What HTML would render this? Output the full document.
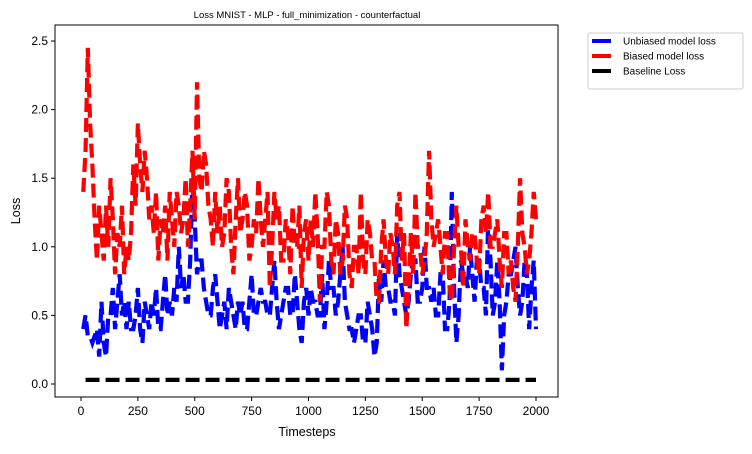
<!DOCTYPE html>
<html><head><meta charset="utf-8"><style>
body{margin:0;background:#fff;}
svg text{font-family:"Liberation Sans","DejaVu Sans",sans-serif;}
</style></head><body>
<svg width="752" height="449" xmlns="http://www.w3.org/2000/svg">
<rect width="752" height="449" fill="#fff"/>
<text x="307" y="18" font-size="9.5" text-anchor="middle">Loss MNIST - MLP - full_minimization - counterfactual</text>
<g id="plot"></g>
<rect x="55" y="25" width="503" height="372" fill="none" stroke="#000" stroke-width="1"/>
<g id="axes"></g>
<text x="307" y="436" font-size="12.5" text-anchor="middle">Timesteps</text>
<text transform="translate(20,211) rotate(-90)" font-size="12.5" text-anchor="middle">Loss</text>
<g>
<rect x="588" y="33" width="155" height="56" rx="2" fill="#fff" stroke="#ccc"/>
<line x1="592" y1="41" x2="611" y2="41" stroke="#00f" stroke-width="4"/>
<text x="623" y="44.5" font-size="10">Unbiased model loss</text>
<line x1="592" y1="56" x2="611" y2="56" stroke="#f00" stroke-width="4"/>
<text x="623" y="59.5" font-size="10">Biased model loss</text>
<line x1="592" y1="71" x2="611" y2="71" stroke="#000" stroke-width="4"/>
<text x="623" y="74.5" font-size="10">Baseline Loss</text>
</g>
</svg>
<script>
const red=[1.4,1.7,2.45,1.9,1.6,1.2,0.9,1.3,1.1,0.9,1.3,1.0,1.5,1.2,0.8,1.1,1.0,1.3,0.8,1.0,
0.9,1.1,1.6,1.3,1.9,1.6,1.4,1.7,1.5,1.2,1.3,1.1,1.4,0.9,1.2,1.1,1.3,0.9,1.4,1.2,
1.0,1.4,1.3,1.1,1.2,1.5,1.0,1.3,1.7,1.2,2.2,1.5,1.4,1.7,1.6,1.3,1.2,1.0,1.4,1.1,
1.3,1.0,1.1,1.5,1.4,1.0,0.8,1.2,1.5,1.1,1.2,1.4,1.3,0.9,1.0,1.2,1.1,1.5,1.2,1.0,
1.2,1.4,0.7,1.0,1.4,1.2,1.3,0.9,0.9,1.2,1.1,0.8,1.3,1.0,1.0,1.3,0.7,1.1,1.2,0.9,
1.2,1.0,1.4,1.1,0.6,1.0,1.0,1.4,1.3,0.9,0.8,1.2,1.1,0.8,0.9,1.3,1.2,0.8,0.7,1.0,
1.0,0.8,1.4,0.9,0.8,1.2,1.1,0.9,0.9,0.6,0.6,1.0,1.2,0.9,0.8,1.1,1.0,0.8,1.3,1.4,
0.9,1.1,0.4,0.7,1.1,0.8,1.4,1.0,1.0,0.8,0.9,1.1,1.7,1.2,1.0,1.1,1.2,1.0,0.8,1.1,
1.1,0.7,0.6,1.0,1.3,1.0,1.0,0.7,1.2,1.0,0.9,1.1,1.1,0.9,0.8,1.2,1.3,1.1,1.4,1.0,
1.0,1.1,1.2,0.9,0.7,1.1,1.1,0.8,0.9,0.7,0.6,1.0,1.5,1.1,1.0,0.8,0.9,1.1,1.4,1.2];
const blue=[0.4,0.5,0.35,0.35,0.3,0.35,0.4,0.2,0.6,0.3,0.2,0.5,0.5,0.7,0.4,0.6,0.8,0.5,0.6,0.4,
0.6,0.4,0.4,0.5,0.7,0.4,0.3,0.6,0.5,0.4,0.6,0.5,0.7,0.4,0.4,0.6,0.8,0.5,0.6,0.5,
0.7,0.6,1.0,0.7,0.8,0.6,0.6,0.9,1.5,1.2,0.8,0.9,0.9,0.7,0.6,0.5,0.5,0.7,0.8,0.6,
0.4,0.5,0.6,0.4,0.7,0.6,0.5,0.4,0.6,0.5,0.6,0.4,0.4,0.6,0.8,0.5,0.5,0.6,0.7,0.6,
0.6,0.5,0.5,0.7,0.9,0.6,0.4,0.5,0.6,0.7,0.7,0.5,0.5,0.8,0.6,0.4,0.3,0.6,0.7,0.5,
0.7,0.6,0.6,0.5,0.5,0.8,0.4,0.6,0.9,0.7,0.7,0.5,0.6,0.8,1.0,0.6,0.5,0.4,0.4,0.3,
0.4,0.5,0.5,0.3,0.3,0.6,0.5,0.4,0.2,0.3,0.8,0.6,0.9,0.7,0.7,0.6,0.6,0.5,1.1,0.8,
0.7,0.6,0.5,0.6,0.8,0.9,0.9,0.6,0.6,0.7,1.0,0.7,0.7,0.6,0.7,0.5,0.5,0.8,0.8,0.4,
0.4,0.6,1.4,0.7,0.3,0.5,0.9,0.8,0.8,0.7,1.0,0.8,0.6,0.9,0.9,0.7,0.7,0.5,1.2,0.9,
0.5,0.6,0.9,0.6,0.1,0.5,0.6,0.8,0.8,0.9,1.0,0.7,0.5,0.6,0.9,0.8,0.4,0.7,0.9,0.4];
const baseline=[0.03,0.03];
const baselineT=[20,2000];
const tStart=10, tStep=10;
const xTicks=[0,250,500,750,1000,1250,1500,1750,2000];
const yTicks=[0.0,0.5,1.0,1.5,2.0,2.5];
const X=t=>81+t*(536-81)/2000;
const Y=v=>384-v*(384-41)/2.5;
const NS="http://www.w3.org/2000/svg";
const plot=document.getElementById('plot'), axes=document.getElementById('axes');
function poly(vals,ts,color,name){
  const p=document.createElementNS(NS,'polyline');
  p.setAttribute('points',vals.map((v,i)=>X(ts(i))+','+Y(v)).join(' '));
  p.setAttribute('fill','none');p.setAttribute('stroke',color);
  p.setAttribute('stroke-width','4.2');p.setAttribute('stroke-dasharray','14,6');
  
  
  plot.appendChild(p);
}
poly(blue,i=>tStart+i*tStep,'#00f','unbiased-loss-line');
poly(red,i=>tStart+i*tStep,'#f00','biased-loss-line');
poly(baseline,i=>baselineT[i],'#000','baseline-loss-line');
xTicks.forEach(t=>{
  const l=document.createElementNS(NS,'line');
  l.setAttribute('x1',X(t));l.setAttribute('x2',X(t));l.setAttribute('y1',397);l.setAttribute('y2',401);l.setAttribute('stroke','#000');
  
  
  axes.appendChild(l);
  const tx=document.createElementNS(NS,'text');
  tx.setAttribute('x',X(t));tx.setAttribute('y',415);tx.setAttribute('font-size','12');tx.setAttribute('text-anchor','middle');
  tx.textContent=t;
  
  
  axes.appendChild(tx);
});
yTicks.forEach(v=>{
  const l=document.createElementNS(NS,'line');
  l.setAttribute('x1',51);l.setAttribute('x2',55);l.setAttribute('y1',Y(v));l.setAttribute('y2',Y(v));l.setAttribute('stroke','#000');
  
  
  axes.appendChild(l);
  const tx=document.createElementNS(NS,'text');
  tx.setAttribute('x',48);tx.setAttribute('y',Y(v)+4);tx.setAttribute('font-size','12');tx.setAttribute('text-anchor','end');
  tx.textContent=v.toFixed(1);
  
  
  axes.appendChild(tx);
});
</script>
</body></html>
